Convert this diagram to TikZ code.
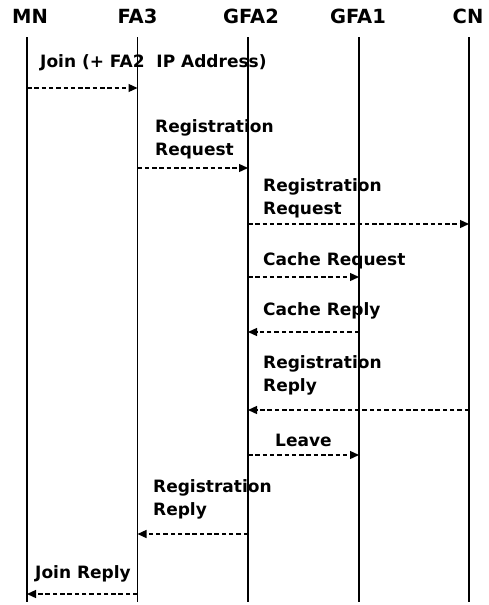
\documentclass[tikz,border=0pt]{standalone}
\usepackage{fontspec}
\setmainfont{DejaVu Sans}
\newfontfamily\headfont{DejaVu Sans Bold}
\newfontfamily\msgfont{DejaVu Sans Bold}
\usetikzlibrary{arrows.meta}
\newcommand{\firstline}{\rule{0pt}{13pt}}
\begin{document}
\begin{tikzpicture}[x=1pt,y=-1pt,
  entity/.style={inner sep=0pt,font=\headfont\fontsize{19.5}{24}\selectfont},
  lifeline/.style={line width=1.5pt},
  msg/.style={line width=1.3pt,dash pattern=on 4.5pt off 2.8pt,
    -{Triangle[length=9pt,width=8pt]}},
  msglabel/.style={inner sep=0pt,anchor=north west,align=left,
    font=\msgfont\fontsize{17}{23.5}\selectfont}]
\useasboundingbox (0,0) rectangle (488,605);

% entities and their lifelines
\foreach \n/\x/\lx in {MN/27/30,FA3/137.5/137.5,GFA2/248/251,GFA1/359/358,CN/469/468}{
  \node[entity] (\n) at (\lx,16) {\n};
  \coordinate (\n-top) at (\x,37);
  \coordinate (\n-bot) at (\x,602);
  \draw[lifeline] (\n-top) -- (\n-bot);
}

% message end points on the lifelines
\coordinate (join-a) at (MN-top |- 0,88);
\coordinate (join-b) at (FA3-top |- 0,88);
\coordinate (rr1-a) at (FA3-top |- 0,168);
\coordinate (rr1-b) at (GFA2-top |- 0,168);
\coordinate (rr2-a) at (GFA2-top |- 0,224);
\coordinate (rr2-b) at (CN-top |- 0,224);
\coordinate (creq-a) at (GFA2-top |- 0,277);
\coordinate (creq-b) at (GFA1-top |- 0,277);
\coordinate (crep-a) at (GFA1-top |- 0,332);
\coordinate (crep-b) at (GFA2-top |- 0,332);
\coordinate (rrep1-a) at (CN-top |- 0,410);
\coordinate (rrep1-b) at (GFA2-top |- 0,410);
\coordinate (leave-a) at (GFA2-top |- 0,455);
\coordinate (leave-b) at (GFA1-top |- 0,455);
\coordinate (rrep2-a) at (GFA2-top |- 0,534);
\coordinate (rrep2-b) at (FA3-top |- 0,534);
\coordinate (jrep-a) at (FA3-top |- 0,594);
\coordinate (jrep-b) at (MN-top |- 0,594);

% messages
\draw[msg] (join-a) -- (join-b);
\draw[msg] (rr1-a) -- (rr1-b);
\draw[msg] (rr2-a) -- (rr2-b);
\draw[msg] (creq-a) -- (creq-b);
\draw[msg] (crep-a) -- (crep-b);
\draw[msg] (rrep1-a) -- (rrep1-b);
\draw[msg] (leave-a) -- (leave-b);
\draw[msg] (rrep2-a) -- (rrep2-b);
\draw[msg] (jrep-a) -- (jrep-b);

% message labels (node top sits 13pt above the first baseline)
\node[msglabel] (l-join) at (40,54) {\firstline Join (+ FA2\ \ IP Address)};
\node[msglabel] (l-rr1) at (155,119) {\firstline Registration\\Request};
\node[msglabel] (l-rr2) at (263,178) {\firstline Registration\\Request};
\node[msglabel] (l-creq) at (263,252) {\firstline Cache Request};
\node[msglabel] (l-crep) at (263,302) {\firstline Cache Reply};
\node[msglabel] (l-rrep1) at (263,355) {\firstline Registration\\Reply};
\node[msglabel] (l-leave) at (275,433) {\firstline Leave};
\node[msglabel] (l-rrep2) at (153,479) {\firstline Registration\\Reply};
\node[msglabel] (l-jrep) at (35,565) {\firstline Join Reply};
\end{tikzpicture}
\end{document}
